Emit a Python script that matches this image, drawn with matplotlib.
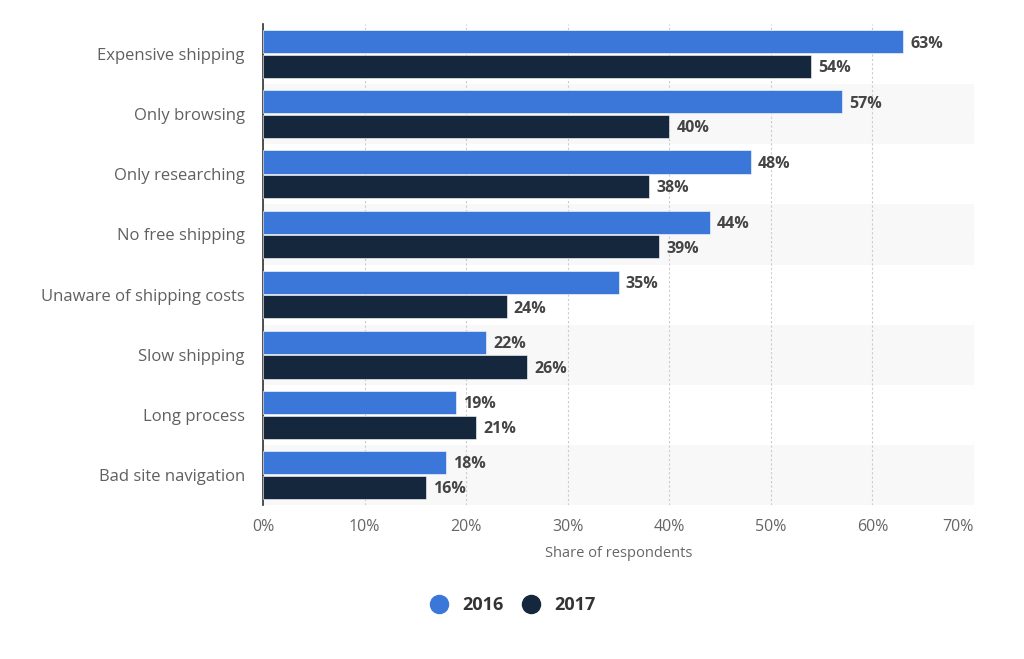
import matplotlib
matplotlib.use("Agg")
import matplotlib.pyplot as plt
import numpy as np
from matplotlib.lines import Line2D

categories = ["Expensive shipping", "Only browsing", "Only researching", "No free shipping",
              "Unaware of shipping costs", "Slow shipping", "Long process", "Bad site navigation"]
values_2016 = [63, 57, 48, 44, 35, 22, 19, 18]
values_2017 = [54, 40, 38, 39, 24, 26, 21, 16]
series_names = ["2016", "2017"]
xticks = [0, 10, 20, 30, 40, 50, 60, 70]
xtick_labels = ["0%", "10%", "20%", "30%", "40%", "50%", "60%", "70%"]

c16 = "#3b77d8"
c17 = "#14273c"

plt.rcParams['font.family'] = ['Open Sans', 'DejaVu Sans']
fig = plt.figure(figsize=(10.24, 6.59), dpi=100)
ax = fig.add_axes([263/1024, 1-505/659, 711/1024, (505-24)/659])

n = len(categories)
y = np.arange(n)
for i in range(n):
    if i % 2 == 1:
        ax.axhspan(i-0.5, i+0.5, color="#f8f8f8", zorder=0, lw=0)

h = 0.385
off = 0.205
ax.barh(y-off, values_2016, height=h, color=c16, zorder=3, edgecolor="white", linewidth=0.4)
ax.barh(y+off, values_2017, height=h, color=c17, zorder=3, edgecolor="white", linewidth=0.4)
for i in range(n):
    ax.text(values_2016[i]+0.7, y[i]-off+0.03, f"{values_2016[i]}%", va="center", ha="left",
            fontsize=11.5, fontweight="bold", color="#444444", zorder=4)
    ax.text(values_2017[i]+0.7, y[i]+off+0.03, f"{values_2017[i]}%", va="center", ha="left",
            fontsize=11.5, fontweight="bold", color="#444444", zorder=4)

ax.set_xlim(0, 70)
ax.set_ylim(n-0.5, -0.5)
ax.set_yticks(y)
ax.set_yticklabels(categories, fontsize=12, color="#606060")
ax.set_xticks(xticks)
ax.set_xticklabels(xtick_labels, fontsize=11.5, color="#666666")
ax.get_xticklabels()[-1].set_horizontalalignment("right")
ax.tick_params(axis="both", length=0)
ax.tick_params(axis="x", pad=10)
ax.tick_params(axis="y", pad=13)
ax.grid(axis="x", linestyle=(0, (2, 2)), color="#cccccc", linewidth=0.8, zorder=1)
ax.set_axisbelow(True)
for s in ["top", "right", "bottom"]:
    ax.spines[s].set_visible(False)
ax.spines["left"].set_color("#333333")
ax.spines["left"].set_linewidth(1.2)
ax.set_xlabel("Share of respondents", fontsize=10.5, color="#666666", labelpad=8)

handles = [Line2D([0], [0], marker="o", color="none", markerfacecolor=c, markeredgecolor=c,
                  markersize=13) for c in (c16, c17)]
leg = fig.legend(handles, series_names, loc="center", bbox_to_anchor=(508/1024, 1-605/659),
                 ncol=2, frameon=False, handletextpad=0.3, columnspacing=0.5,
                 prop={"size": 13, "weight": "bold"})
for t in leg.get_texts():
    t.set_color("#333333")

fig.savefig("out.png", dpi=100)
